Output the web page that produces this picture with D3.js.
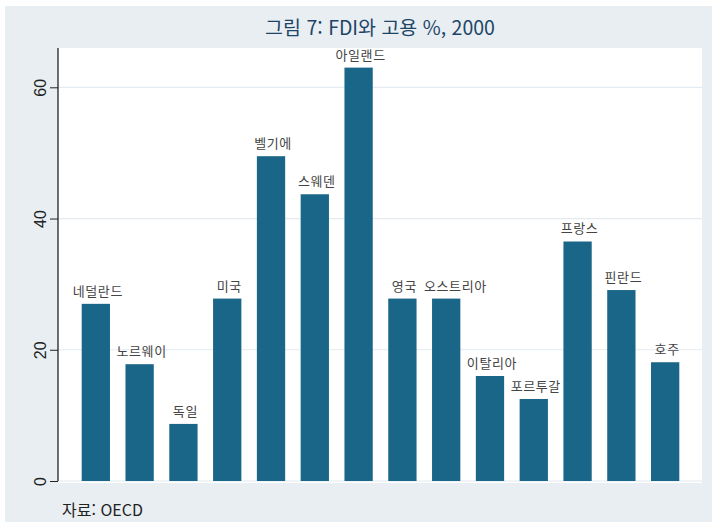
<!DOCTYPE html>
<html lang="ko">
<head>
<meta charset="UTF-8">
<script src="https://cdn.jsdelivr.net/npm/d3@7"></script>
<style>
    body { margin: 0; background: #fff; }
    svg { display: block; }
</style>
</head>
<body>
<div id="chart"></div>
<script>
    var countries = ["네덜란드", "노르웨이", "독일", "미국", "벨기에", "스웨덴", "아일랜드",
        "영국", "오스트리아", "이탈리아", "포르투갈", "프랑스", "핀란드", "호주"];
    var values = [27.0, 17.8, 8.7, 27.8, 49.5, 43.7, 63.0, 27.8, 27.8, 16.0, 12.5, 36.5, 29.1, 18.1];
    var yTicks = [0, 20, 40, 60];
    var title = "그림 7: FDI와  고용 %, 2000";
    var note = "자료: OECD";

    var width = 712, height = 522;
    var plot = {left: 58, right: 702, top: 48, bottom: 483};

    var svg = d3.select("#chart").append("svg")
        .attr("width", width)
        .attr("height", height);

    // outer graph region
    svg.append("rect")
        .attr("x", 5).attr("y", 6)
        .attr("width", width - 5).attr("height", height - 6)
        .attr("fill", "#e8eef2");

    svg.append("rect")
        .attr("x", plot.left).attr("y", plot.top)
        .attr("width", plot.right - plot.left)
        .attr("height", plot.bottom - plot.top)
        .attr("fill", "#fff");

    var y = d3.scaleLinear().domain([0, 60]).range([481, 87.3]);

    var x = d3.scaleBand()
        .domain(countries)
        .range([70, 691])
        .paddingInner(0.354)
        .paddingOuter(0.267);

    // grid lines
    svg.append("g")
        .selectAll("line")
        .data(yTicks)
        .join("line")
        .attr("x1", plot.left)
        .attr("x2", plot.right)
        .attr("y1", function (d) { return y(d); })
        .attr("y2", function (d) { return y(d); })
        .attr("stroke", "#e3eaf0")
        .attr("stroke-width", 1.2);

    // bars
    svg.append("g")
        .selectAll("rect")
        .data(values)
        .join("rect")
        .attr("x", function (d, i) { return x(countries[i]); })
        .attr("width", x.bandwidth())
        .attr("y", function (d) { return y(d); })
        .attr("height", function (d) { return y(0) - y(d); })
        .attr("fill", "#1a6689");

    // bar labels
    var labels = svg.append("g")
        .selectAll("text")
        .data(values)
        .join("text")
        .attr("x", function (d, i) { return x(countries[i]) + x.bandwidth() / 2 + 2; })
        .attr("y", function (d) { return y(d) - 8; })
        .attr("text-anchor", "middle")
        .attr("font-family", "'Noto Sans CJK KR', sans-serif")
        .attr("font-size", 13)
        .attr("letter-spacing", 0.6)
        .attr("fill", "#444")
        .text(function (d, i) { return countries[i]; });

    // push a label right when it runs into its neighbour at the same height
    var prev = null;
    labels.each(function (d, i) {
        var bb = this.getBBox();
        if (prev && Math.abs(prev.y - bb.y) < 4 && bb.x < prev.x + prev.width + 7) {
            var shift = prev.x + prev.width + 7 - bb.x;
            d3.select(this).attr("x", +d3.select(this).attr("x") + shift);
            bb = this.getBBox();
        }
        prev = bb;
    });

    // y axis
    var yAxis = d3.axisLeft(y)
        .tickValues(yTicks)
        .tickSize(8)
        .tickPadding(4);

    var gy = svg.append("g")
        .attr("transform", "translate(" + plot.left + ",0)")
        .call(yAxis);

    gy.select(".domain").remove();
    gy.selectAll(".tick line").attr("stroke", "#222");
    gy.append("line")
        .attr("x1", 0).attr("x2", 0)
        .attr("y1", plot.top).attr("y2", y(0))
        .attr("stroke", "#222")
        .attr("stroke-width", 1.3);

    gy.selectAll(".tick text")
        .attr("font-family", "'Liberation Sans', Arial, sans-serif")
        .attr("font-size", 16)
        .attr("fill", "#222")
        .attr("text-anchor", "middle")
        .attr("x", null)
        .attr("dy", null)
        .attr("transform", "translate(-18,0) rotate(-90)")
        .attr("dominant-baseline", "central");

    // title
    svg.append("text")
        .attr("x", (plot.left + plot.right) / 2)
        .attr("y", 35)
        .attr("text-anchor", "middle")
        .attr("font-family", "'Noto Sans CJK KR', sans-serif")
        .attr("font-size", 19.5)
        .attr("fill", "#1e4566")
        .text(title);

    // note
    svg.append("text")
        .attr("x", 62)
        .attr("y", 516)
        .attr("font-family", "'Noto Sans CJK KR', sans-serif")
        .attr("font-size", 16)
        .attr("fill", "#222")
        .text(note);
</script>
</body>
</html>
